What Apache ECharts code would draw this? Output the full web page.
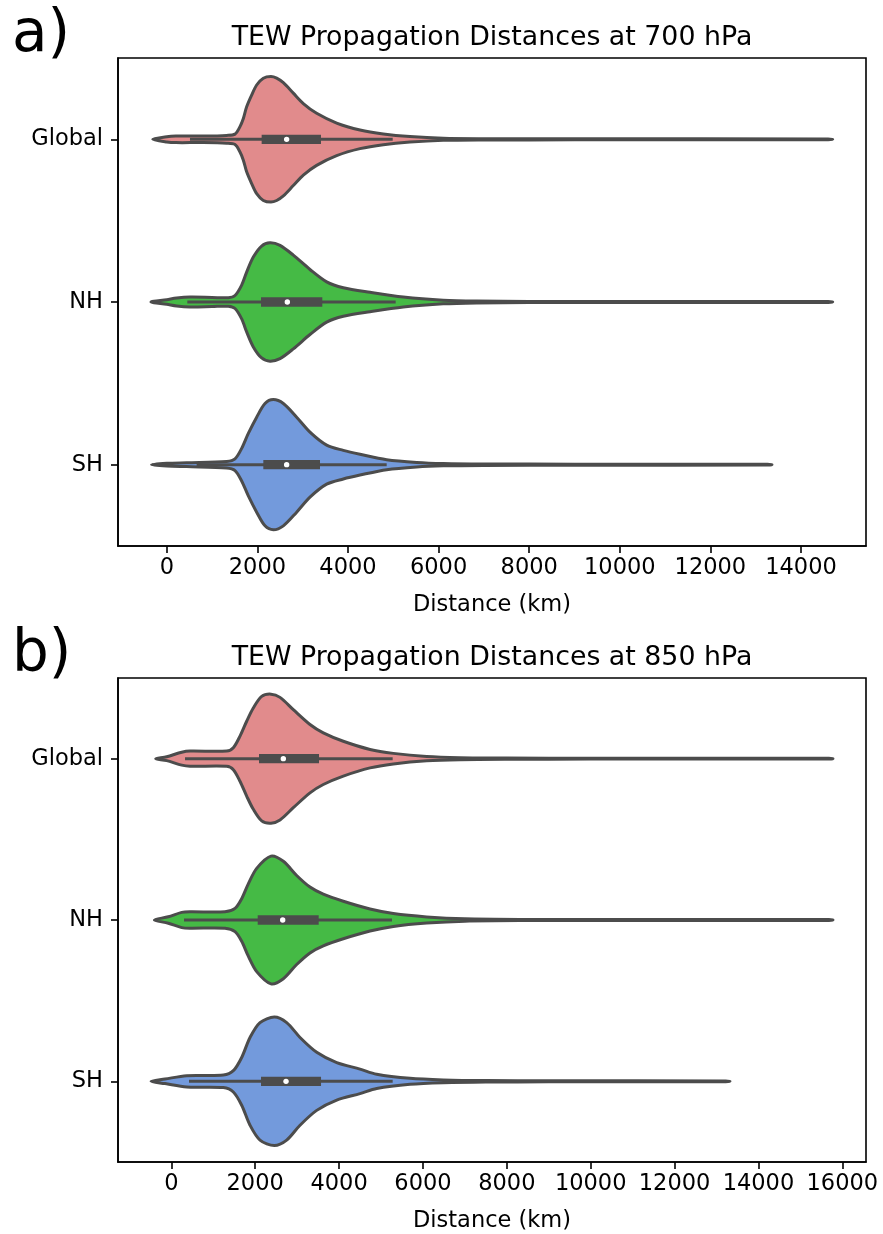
<!DOCTYPE html>
<html>
<head>
<meta charset="utf-8">
<script src="https://cdn.jsdelivr.net/npm/echarts@6/dist/echarts.min.js"></script>
<style>
  html, body { margin: 0; padding: 0; background: #fff; }
  #chart { width: 883px; height: 1234px; }
</style>
</head>
<body>
<div id="chart"></div>
<script>
// Regions shown in each panel, top to bottom
const categories = ['Global', 'NH', 'SH'];
const ticks700 = [0, 2000, 4000, 6000, 8000, 10000, 12000, 14000];
const ticks850 = [0, 2000, 4000, 6000, 8000, 10000, 12000, 14000, 16000];

// Violin outlines: [distance (km), relative half-width of the density (1 = widest violin)]
const global700 = [[-311,0],[0,0.04],[200,0.05],[800,0.05],[1320,0.06],[1506,0.08],[1616,0.195],[1690,0.32],[1763,0.50],[1873,0.68],[1984,0.835],[2131,0.94],[2300,0.965],[2426,0.94],[2573,0.87],[2793,0.71],[3014,0.55],[3308,0.40],[3750,0.25],[4265,0.143],[4780,0.082],[5368,0.042],[6104,0.016],[7000,0.01],[9000,0.008],[14600,0.006],[14700,0]];
const nh700 = [[-349,0],[0,0.035],[218,0.06],[512,0.075],[1000,0.07],[1358,0.066],[1506,0.10],[1653,0.26],[1763,0.46],[1910,0.69],[2094,0.86],[2278,0.91],[2499,0.87],[2793,0.72],[3161,0.50],[3529,0.31],[3897,0.22],[4486,0.15],[5221,0.077],[6104,0.028],[6840,0.014],[8000,0.009],[10000,0.007],[14600,0.006],[14700,0]];
const sh700 = [[-334,0],[0,0.02],[438,0.03],[1322,0.05],[1506,0.09],[1653,0.25],[1800,0.48],[1984,0.73],[2168,0.94],[2352,1.0],[2573,0.94],[2867,0.73],[3161,0.50],[3529,0.30],[3897,0.22],[4265,0.16],[4854,0.077],[5516,0.035],[6104,0.018],[7000,0.011],[9000,0.008],[13260,0.006],[13360,0]];

const global850 = [[-372,0],[-110,0.03],[248,0.10],[446,0.118],[1321,0.118],[1479,0.17],[1638,0.35],[1797,0.58],[1955,0.785],[2155,0.965],[2377,1.0],[2592,0.95],[2909,0.76],[3307,0.53],[3624,0.40],[4101,0.27],[4738,0.143],[5294,0.082],[6089,0.033],[6884,0.015],[8000,0.009],[10000,0.007],[15680,0.006],[15777,0]];
const nh850 = [[-405,0],[-71,0.05],[248,0.118],[446,0.128],[1280,0.128],[1519,0.18],[1678,0.33],[1836,0.56],[2036,0.80],[2377,0.99],[2671,0.91],[2989,0.69],[3307,0.51],[3624,0.40],[4101,0.29],[4738,0.17],[5294,0.10],[6089,0.048],[7000,0.018],[8500,0.009],[11000,0.007],[15680,0.006],[15777,0]];
const sh850 = [[-484,0],[-150,0.035],[367,0.088],[1240,0.097],[1479,0.165],[1678,0.37],[1877,0.68],[2115,0.91],[2456,0.995],[2751,0.91],[3069,0.68],[3467,0.45],[3944,0.29],[4499,0.19],[4897,0.11],[5692,0.046],[6487,0.022],[7500,0.011],[9000,0.008],[13220,0.006],[13321,0]];

// Inner box: [lower whisker, Q1, median, Q3, upper whisker] (km)
const box700 = [[512,2094,2646,3404,4987],[453,2080,2661,3433,5052],[659,2131,2646,3382,4854]];
const box850 = [[327,2091,2671,3522,5278],[303,2060,2656,3514,5262],[422,2139,2735,3570,5278]];

const fillColors = ['#E18B8C', '#45BA45', '#739ADC'];
const edgeGray = '#4c4c4c';
const FONT = 'DejaVu Sans';

function violinRenderer(profiles, boxes) {
  return function (params, api) {
    const i = params.dataIndex;
    const band = api.size([0, 1])[1];
    const maxHalf = band * 0.4;
    const cy = api.coord([0, i])[1];
    const prof = profiles[i];
    const top = prof.map(p => [api.coord([p[0], i])[0], cy - p[1] * maxHalf]);
    const bottom = prof.slice().reverse().map(p => [api.coord([p[0], i])[0], cy + p[1] * maxHalf]);
    const pts = top.concat(bottom.slice(1, bottom.length - 1));
    const b = boxes[i];
    const xw0 = api.coord([b[0], i])[0];
    const xq1 = api.coord([b[1], i])[0];
    const xmed = api.coord([b[2], i])[0];
    const xq3 = api.coord([b[3], i])[0];
    const xw1 = api.coord([b[4], i])[0];
    return {
      type: 'group',
      children: [
        { type: 'polygon', shape: { points: pts, smooth: 0.3 },
          style: { fill: fillColors[i], stroke: edgeGray, lineWidth: 3, lineJoin: 'round' } },
        { type: 'line', shape: { x1: xw0, y1: cy, x2: xw1, y2: cy },
          style: { stroke: edgeGray, lineWidth: 3 } },
        { type: 'rect', shape: { x: xq1, y: cy - 4.7, width: xq3 - xq1, height: 9.4 },
          style: { fill: edgeGray } },
        { type: 'circle', shape: { cx: xmed, cy: cy, r: 2.7 },
          style: { fill: '#fff' } }
      ]
    };
  };
}

function xAxisFor(gridIndex, min, max, ticks) {
  return {
    type: 'value', gridIndex, min, max,
    name: 'Distance (km)', nameLocation: 'middle', nameGap: 48,
    nameTextStyle: { fontFamily: FONT, fontSize: 22.5, color: '#000' },
    splitLine: { show: false },
    axisLine: { show: true, onZero: false, lineStyle: { color: '#000', width: 1.6 } },
    axisTick: { show: true, length: 7, lineStyle: { color: '#000', width: 1.6 }, customValues: ticks },
    axisLabel: { fontFamily: FONT, fontSize: 22.5, color: '#000', margin: 11, customValues: ticks,
      formatter: v => String(v) }
  };
}

function yAxisFor(gridIndex) {
  return {
    type: 'category', gridIndex, data: categories, inverse: true,
    axisLine: { show: true, onZero: false, lineStyle: { color: '#000', width: 1.6 } },
    axisTick: { show: true, length: 7, alignWithLabel: true, lineStyle: { color: '#000', width: 1.6 } },
    axisLabel: { fontFamily: FONT, fontSize: 22.5, color: '#000', margin: 15 },
    splitLine: { show: false }
  };
}

const chart = echarts.init(document.getElementById('chart'), null, { renderer: 'canvas' });
chart.setOption({
  animation: false,
  backgroundColor: '#fff',
  grid: [
    { left: 118, top: 58, width: 748, height: 488, show: true, borderColor: '#000', borderWidth: 1.6, containLabel: false },
    { left: 118, top: 678, width: 748, height: 487, show: true, borderColor: '#000', borderWidth: 1.6, containLabel: false }
  ],
  xAxis: [xAxisFor(0, -1077, 15435, ticks700), xAxisFor(1, -1271, 16564, ticks850)],
  yAxis: [yAxisFor(0), yAxisFor(1)],
  graphic: [
    { type: 'text', left: 12, top: 7, style: { text: 'a)', font: '58px "DejaVu Sans"', fill: '#000' } },
    { type: 'text', x: 492, y: 38, style: { text: 'TEW Propagation Distances at 700 hPa', font: '26.8px "DejaVu Sans"', fill: '#000', align: 'center', verticalAlign: 'middle' } },
    { type: 'text', left: 12, top: 627, style: { text: 'b)', font: '58px "DejaVu Sans"', fill: '#000' } },
    { type: 'text', x: 492, y: 658, style: { text: 'TEW Propagation Distances at 850 hPa', font: '26.8px "DejaVu Sans"', fill: '#000', align: 'center', verticalAlign: 'middle' } }
  ],
  series: [
    { type: 'custom', xAxisIndex: 0, yAxisIndex: 0, renderItem: violinRenderer([global700, nh700, sh700], box700),
      data: [[0, 0], [0, 1], [0, 2]], encode: { x: 0, y: 1 }, silent: true, clip: false },
    { type: 'custom', xAxisIndex: 1, yAxisIndex: 1, renderItem: violinRenderer([global850, nh850, sh850], box850),
      data: [[0, 0], [0, 1], [0, 2]], encode: { x: 0, y: 1 }, silent: true, clip: false }
  ]
});
</script>
</body>
</html>
